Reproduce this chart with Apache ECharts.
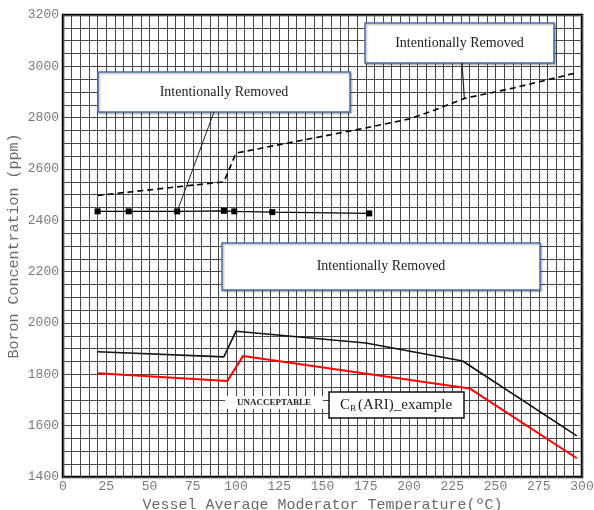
<!DOCTYPE html>
<html>
<head>
<meta charset="utf-8">
<script src="https://cdn.jsdelivr.net/npm/echarts@6/dist/echarts.min.js"></script>
<style>
html,body{margin:0;padding:0;background:#fff;}
#c{width:594px;height:510px;}
</style>
</head>
<body>
<div id="c"></div>
<script>
// ---- data ----
var xTicks = [0, 25, 50, 75, 100, 125, 150, 175, 200, 225, 250, 275, 300];
var yTicks = [1400, 1600, 1800, 2000, 2200, 2400, 2600, 2800, 3000, 3200];

var squareTemps = [20, 38, 66, 93, 99, 121, 177];
var squareBoron = [2435, 2435, 2435, 2437, 2435, 2432, 2427];

var dashedTemps = [20, 93, 100, 175, 200, 215, 232, 260, 297];
var dashedBoron = [2497, 2550, 2662, 2760, 2795, 2830, 2875, 2915, 2975];

var blackTemps = [20, 93, 100, 175, 231, 297];
var blackBoron = [1888, 1868, 1968, 1922, 1852, 1560];

var redTemps = [20, 95, 104, 235, 297];
var redBoron = [1804, 1774, 1871, 1745, 1473];

function zip(a, b) { return a.map(function (v, i) { return [v, b[i]]; }); }

var chart = echarts.init(document.getElementById('c'), null, {renderer: 'canvas'});
var gridLineStyle = {color: '#474747', width: 1};
var mono = '"Liberation Mono", "Courier New", monospace';

var option = {
  animation: false,
  backgroundColor: '#fff',
  grid: {left: 63, right: 12, top: 15, bottom: 33, show: true, borderColor: '#000', borderWidth: 2.5,
    backgroundColor: 'transparent', containLabel: false, outerBoundsMode: 'none'},
  xAxis: {
    type: 'value', min: 0, max: 300, interval: 25,
    name: 'Vessel Average Moderator Temperature(ºC)',
    nameLocation: 'middle', nameGap: 17,
    nameTextStyle: {fontFamily: mono, fontSize: 15, color: '#6a6a6a'},
    axisLine: {show: false}, axisTick: {show: false},
    axisLabel: {fontFamily: mono, fontSize: 13, color: '#7a7a7a', margin: 3,
      formatter: function (v) { return xTicks.indexOf(v) >= 0 ? String(v) : ''; }},
    splitLine: {show: true, lineStyle: gridLineStyle},
    minorTick: {show: false, splitNumber: 5},
    minorSplitLine: {show: true, lineStyle: gridLineStyle}
  },
  yAxis: {
    type: 'value', min: 1400, max: 3200, interval: 200,
    name: 'Boron Concentration (ppm)',
    nameLocation: 'middle', nameGap: 41, nameRotate: 90, nameMoveOverlap: false,
    nameTextStyle: {fontFamily: mono, fontSize: 15, color: '#6a6a6a'},
    axisLine: {show: false}, axisTick: {show: false},
    axisLabel: {fontFamily: mono, fontSize: 13, color: '#7a7a7a', margin: 4,
      formatter: function (v) { return yTicks.indexOf(v) >= 0 ? String(v) : ''; }},
    splitLine: {show: true, lineStyle: gridLineStyle},
    minorTick: {show: false, splitNumber: 4},
    minorSplitLine: {show: true, lineStyle: gridLineStyle}
  },
  series: [
    {type: 'line', data: zip(dashedTemps, dashedBoron), symbol: 'none', z: 3,
      lineStyle: {color: '#000', width: 1.6, type: [6, 4]}},
    {type: 'line', data: zip(squareTemps, squareBoron), symbol: 'rect', symbolSize: 6, z: 3,
      itemStyle: {color: '#000'}, lineStyle: {color: '#000', width: 1.2}},
    {type: 'line', data: zip(blackTemps, blackBoron), symbol: 'none', z: 3,
      lineStyle: {color: '#111', width: 1.6}},
    {type: 'line', data: zip(redTemps, redBoron), symbol: 'none', z: 3,
      lineStyle: {color: '#ff0000', width: 2}}
  ]
};
chart.setOption(option);

// annotation pointers end on data points
var pA = chart.convertToPixel({gridIndex: 0}, [squareTemps[2], squareBoron[2]]);
var pB = chart.convertToPixel({gridIndex: 0}, [232, 2875]);

var serif = '"Liberation Serif", "Times New Roman", serif';
function box(x, y, w, h, text) {
  return {
    type: 'group', z: 20,
    children: [
      {type: 'rect', shape: {x: x, y: y, width: w, height: h},
        style: {fill: '#fff', stroke: '#4f6fa8', lineWidth: 1.5, shadowBlur: 2, shadowColor: 'rgba(0,0,0,0.35)', shadowOffsetX: 1, shadowOffsetY: 1}},
      {type: 'text', x: x + w / 2, y: y + h / 2,
        style: {text: text, font: '14px ' + serif, fill: '#222', align: 'center', verticalAlign: 'middle'}}
    ]
  };
}

chart.setOption({
  graphic: [
    {type: 'line', z: 19, shape: {x1: 214, y1: 112, x2: pA[0], y2: pA[1]}, style: {stroke: '#222', lineWidth: 1}},
    {type: 'line', z: 19, shape: {x1: 462, y1: 63, x2: pB[0], y2: pB[1]}, style: {stroke: '#222', lineWidth: 1.2}},
    box(365, 23, 189, 40, 'Intentionally Removed'),
    box(98, 72, 252, 40, 'Intentionally Removed'),
    box(222, 243, 318, 47, 'Intentionally Removed'),
    {type: 'rect', z: 20, shape: {x: 225, y: 396, width: 98, height: 13}, style: {fill: '#fff'}},
    {type: 'text', z: 21, x: 274, y: 403, style: {text: 'UNACCEPTABLE', font: 'bold 9px ' + serif, fill: '#222', align: 'center', verticalAlign: 'middle'}},
    {type: 'rect', z: 20, shape: {x: 329, y: 392, width: 135, height: 26}, style: {fill: '#fff', stroke: '#111', lineWidth: 1.5}},
    {type: 'text', z: 21, x: 396, y: 405, style: {
      text: '{c|C}{s|B}{c|(ARI)_example}', align: 'center', verticalAlign: 'middle',
      rich: {c: {font: '15px ' + serif, fill: '#222'}, s: {font: '9px ' + serif, fill: '#222', padding: [8, 2, 0, 0]}}
    }}
  ]
});
</script>
</body>
</html>
